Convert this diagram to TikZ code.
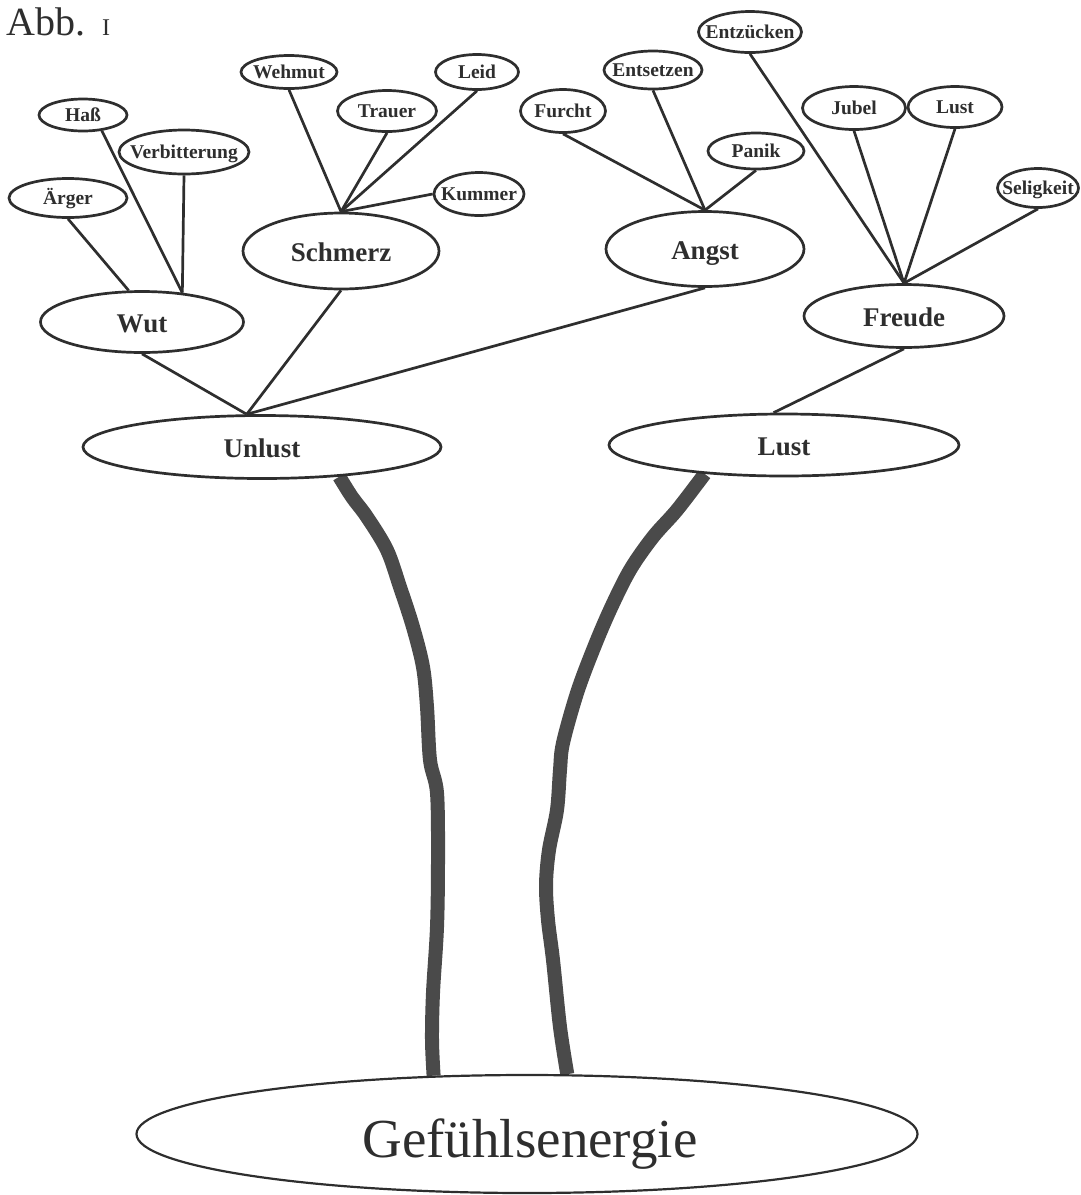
\documentclass[tikz,border=0pt]{standalone}
\usepackage{fontspec}
\setmainfont{Liberation Serif}
\usetikzlibrary{shapes.geometric}
\pgfdeclarelayer{bg}
\pgfsetlayers{bg,main}
\newcommand\zw[1]{\makebox[0pt]{#1}}
\definecolor{ink}{HTML}{2E2E2E}
\definecolor{trunkc}{HTML}{4A4A4A}
\tikzset{
  ell/.style 2 args={draw=ink, line width=2.7pt, fill=white, ellipse, inner sep=0pt,
    minimum width=#1, minimum height=#2, text depth=0pt, text=ink},
  smalllab/.style={font=\fontsize{19.5}{20}\selectfont\bfseries, text height=13pt},
  biglab/.style={font=\fontsize{27}{28}\selectfont\bfseries, text height=20pt},
  conn/.style={draw=ink, line width=2.7pt},
  trunk/.style={draw=trunkc, line width=14pt, line join=round},
}
\begin{document}
\begin{tikzpicture}[x=1pt, y=-1pt]
\useasboundingbox (0,0) rectangle (1081,1195);

% title
\node[anchor=base west, inner sep=0pt, text=ink, font=\fontsize{40}{40}\selectfont] (abb) at (6,35) {Abb.\hspace{17pt}{\fontsize{24}{24}\selectfont I}};

% small ellipses
\node[ell={88pt}{32pt}, smalllab] (hass) at (83,115) {\zw{Haß}};
\node[ell={130pt}{44pt}, smalllab] (verb) at (184,152) {\zw{Verbitterung}};
\node[ell={118pt}{39pt}, smalllab] (aerger) at (68,198) {\zw{Ärger}};
\node[ell={96pt}{33pt}, smalllab] (wehmut) at (289,72) {\zw{Wehmut}};
\node[ell={99pt}{41pt}, smalllab] (trauer) at (387,111) {\zw{Trauer}};
\node[ell={83pt}{35pt}, smalllab] (leid) at (477,72) {\zw{Leid}};
\node[ell={90pt}{43pt}, smalllab] (kummer) at (479,194) {\zw{Kummer}};
\node[ell={85pt}{43pt}, smalllab] (furcht) at (563,111) {\zw{Furcht}};
\node[ell={98pt}{38pt}, smalllab] (entsetzen) at (653,70) {\zw{Entsetzen}};
\node[ell={103pt}{41pt}, smalllab] (entzuecken) at (750,32) {\zw{Entzücken}};
\node[ell={96pt}{36pt}, smalllab] (panik) at (756,151) {\zw{Panik}};
\node[ell={103pt}{43pt}, smalllab] (jubel) at (854,108) {\zw{Jubel}};
\node[ell={94pt}{41pt}, smalllab] (lustb) at (955,107) {\zw{Lust}};
\node[ell={81pt}{39pt}, smalllab] (selig) at (1038,188) {\zw{Seligkeit}};

% big ellipses
\node[ell={203pt}{61pt}, biglab] (wut) at (142,322) {\zw{Wut}};
\node[ell={196pt}{76pt}, biglab] (schmerz) at (341,251) {\zw{Schmerz}};
\node[ell={198pt}{75pt}, biglab] (angst) at (705,249) {\zw{Angst}};
\node[ell={200pt}{63pt}, biglab] (freude) at (904,316) {\zw{Freude}};
\node[ell={358pt}{63pt}, biglab] (unlust) at (262,447) {\zw{Unlust}};
\node[ell={350pt}{62pt}, biglab] (lust) at (784,445) {\zw{Lust}};

% root
\node[draw=ink, line width=2.2pt, fill=white, ellipse, inner sep=0pt,
      minimum width=781pt, minimum height=118pt] (gef) at (527,1134) {};
\node[anchor=base, inner sep=0pt, text=ink, font=\fontsize{55}{56}\selectfont] (geftext) at (530,1157) {Gefühlsenergie};

\begin{pgfonlayer}{bg}
% Wut branch
\draw[conn] (aerger.south) -- (wut.113.6);
\draw[conn] (hass.-40) -- (wut.36);
\draw[conn] (verb.south) -- (wut.36);
% Schmerz branch
\draw[conn] (wehmut.south) -- (schmerz.north);
\draw[conn] (trauer.south) -- (schmerz.north);
\draw[conn] (leid.south) -- (schmerz.north);
\draw[conn] (kummer.west) -- (schmerz.north);
% Angst branch
\draw[conn] (furcht.south) -- (angst.north);
\draw[conn] (entsetzen.south) -- (angst.north);
\draw[conn] (panik.south) -- (angst.north);
% Freude branch
\draw[conn] (entzuecken.south) -- (freude.north);
\draw[conn] (jubel.south) -- (freude.north);
\draw[conn] (lustb.south) -- (freude.north);
\draw[conn] (selig.south) -- (freude.north);
% to Unlust / Lust
\draw[conn] (wut.south) -- (unlust.115);
\draw[conn] (schmerz.south) -- (unlust.115);
\draw[conn] (angst.south) -- (unlust.115);
\draw[conn] (freude.south) -- (lust.108.4);
% trunks
\draw[trunk] plot[smooth, tension=0.55] coordinates {(unlust.-21.5) (352,497) (367,517) (387,550) (400,587) (413,627) (423,667) (427,707) (430,760) (437,793) (438,860) (437,927) (433,993) (432,1040) (gef.148.5)};
\draw[trunk] plot[smooth, tension=0.55] coordinates {(lust.-160.7) (677,510) (653,537) (630,570) (610,610) (593,650) (577,693) (563,743) (560,770) (557,810) (549,850) (546,885) (548,920) (553,960) (560,1027) (gef.56.2)};
\end{pgfonlayer}
\end{tikzpicture}
\end{document}
